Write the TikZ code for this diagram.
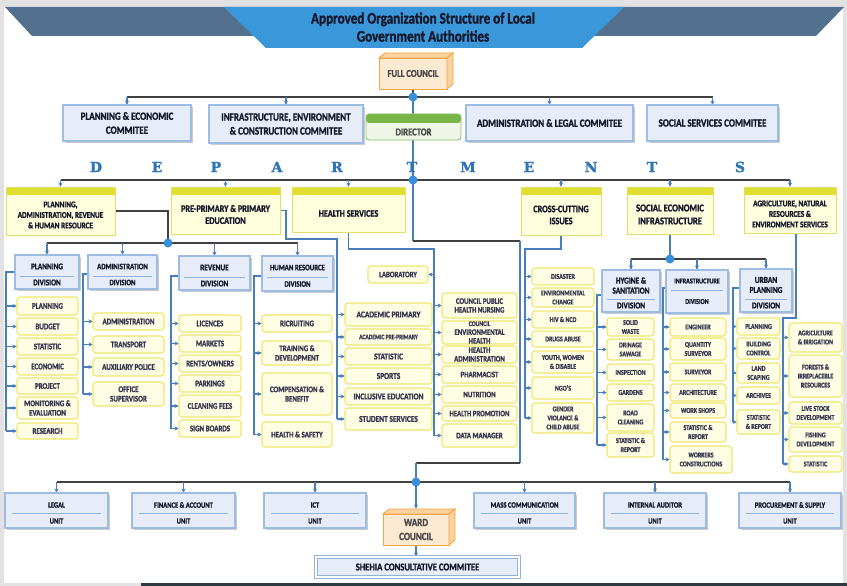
\documentclass[tikz,border=0pt]{standalone}
\usepackage{fontspec}
\setmainfont{Carlito}[FakeStretch=0.82, BoldFeatures={FakeBold=1.4}]
\newfontfamily\deptfont{DejaVu Serif}[BoldFeatures={FakeBold=1.6}]
\usetikzlibrary{arrows.meta,shadows}
\pgfdeclarelayer{back}
\pgfdeclarelayer{bg}
\pgfsetlayers{back,bg,main}
\definecolor{bbf}{HTML}{E6EDF8}
\definecolor{bbd}{HTML}{9CBCE3}
\definecolor{blinec}{HTML}{8EB4E3}
\definecolor{ybf}{HTML}{FFFDE3}
\definecolor{ybd}{HTML}{EFE66E}
\definecolor{dbf}{HTML}{FFFEDD}
\definecolor{dbd}{HTML}{E3DE6A}
\definecolor{dhd}{HTML}{E0DE2E}
\definecolor{linec}{HTML}{4A7EBB}
\definecolor{busc}{HTML}{404040}
\definecolor{hubc}{HTML}{3A8FDA}
\definecolor{ctxt}{HTML}{34364F}
\definecolor{ink}{HTML}{15182A}
\definecolor{deptc}{HTML}{2E75B6}
\definecolor{banddark}{HTML}{53718F}
\definecolor{bandlight}{HTML}{3A98DA}
\definecolor{cubef}{HTML}{FDEAD2}
\definecolor{cubes}{HTML}{FBD3A0}
\definecolor{cubeb}{HTML}{F2A541}
\definecolor{cubet}{HTML}{4A4A4A}
\definecolor{dirh}{HTML}{7AB547}
\definecolor{dirf}{HTML}{EFF6E8}
\definecolor{dirb}{HTML}{8DC26A}
\definecolor{framec}{HTML}{E2E2E2}
\definecolor{stripc}{HTML}{2E3A40}
\definecolor{shd}{HTML}{8FB2DE}
\newcommand\cfs{8.5}
\newcommand\cbs{9.5}
\newcommand\bx[7]{\node[#6, minimum width={(#4)-(#2)}, minimum height={(#5)-(#3)}] (#1) at ({((#2)+(#4))/2},{((#3)+(#5))/2}) {#7};}
\newcommand\cb[6]{\bx{#1}{#2}{#3}{#4}{#5}{leafbox}{#6}}
\newcommand\dep[8]{\bx{#1}{#2}{#3}{#4}{#5}{deptbox}{}\node[text=ink, font=\fontsize{#6}{#7}\selectfont\bfseries] (#1t) at ({((#2)+(#4))/2},{((#3)+8+(#5))/2}) {#8};}
\newcommand\dv[9]{\bx{#1}{#2}{#3}{#4}{#5}{bluebox}{}\draw[bline] ({(#2)+5},#8) -- ({(#4)-5},#8);\node[text=ink, font=\fontsize{#6}{10}\selectfont\bfseries] (#1t) at ({((#2)+(#4))/2},{((#3)+(#8))/2+1}) {#7};\node[text=ink, font=\fontsize{#6}{10}\selectfont\bfseries] (#1b) at ({((#2)+(#4))/2},{((#8)+(#5))/2}) {#9};}
\newcommand\un[4]{\bx{#1}{#2}{493}{#3}{528}{bluebox}{}\draw[bline] ({(#2)+7},513) -- ({(#3)-7},513);\node[unitt] (#1t) at ({((#2)+(#3))/2},505) {#4};\node[unitt] (#1b) at ({((#2)+(#3))/2},521) {UNIT};}
\newcommand\cubefaces[1]{\filldraw[cubeface] (#1.north west) -- ([shift={(6,-5)}]#1.north west) -- ([shift={(6,-5)}]#1.north east) -- (#1.north east) -- cycle;\filldraw[cubeface] (#1.north east) -- ([shift={(6,-5)}]#1.north east) -- ([shift={(6,-5)}]#1.south east) -- (#1.south east) -- cycle;}
\newcommand\spine[6]{\coordinate (#1) at (#2,#3);\draw[spinel] (#4.west|-#1) -- (#1) -- (#1|-#5.west);\foreach \nn in {#6} \draw[arrl] (#1|-\nn.west) -- (\nn.west);}
\tikzset{
 every node/.style={inner sep=0pt, outer sep=0pt, align=center},
 bluebox/.style={draw=bbd, line width=1.3pt, fill=bbf, drop shadow={shadow xshift=1.6pt, shadow yshift=-1.6pt, fill=black!40, opacity=0.5}},
 comm/.style={bluebox, text=ink, font=\fontsize{11}{14}\selectfont\bfseries},
 leafbox/.style={draw=ybd, line width=1.1pt, fill=ybf, rounded corners=3pt, text=ctxt, font=\fontsize{\cfs}{\cbs}\selectfont\bfseries},
 deptbox/.style={draw=dbd, line width=0.9pt, fill=dbf, path picture={\fill[dhd] (path picture bounding box.north west) rectangle ([yshift=-8pt]path picture bounding box.north east);}},
 dirbox/.style={draw=dirb, line width=0.9pt, fill=dirf, rounded corners=3pt, path picture={\fill[dirh] (path picture bounding box.north west) rectangle ([yshift=-9pt]path picture bounding box.north east);}},
 cubefront/.style={draw=cubeb, line width=0.9pt, fill=cubef, text=cubet, font=\fontsize{10.5}{14}\selectfont\bfseries},
 cubeface/.style={draw=cubeb, line width=0.9pt, fill=cubes},
 spinel/.style={draw=linec, line width=1.1pt},
 busl/.style={draw=busc, line width=1.2pt},
 arrl/.style={spinel, -{Stealth[length=4.5pt,width=4pt]}},
 bline/.style={draw=blinec, line width=0.9pt},
 unitt/.style={text=ink, font=\fontsize{8}{9}\selectfont\bfseries},
 deptl/.style={text=deptc, font=\deptfont\fontsize{14}{14}\selectfont\bfseries},
 shehia/.style={draw=shd, double=white, double distance=1.4pt, line width=0.9pt, fill=bbf, text=ink, font=\fontsize{10.5}{12}\selectfont\bfseries},
}
\begin{document}
\begin{tikzpicture}[x=1pt,y=-1pt]
\begin{pgfonlayer}{back}
\fill[framec] (0,0) rectangle (847,586);
\fill[white] (4,7) rectangle (843,583);
\fill[stripc] (141,583) rectangle (847,586);
\end{pgfonlayer}
\useasboundingbox (0,0) rectangle (847,586);
% title
\fill[banddark] (5,7) -- (844,7) -- (816,36) -- (32,36) -- cycle;
\fill[bandlight] (224,7) -- (624,7) -- (582,48) -- (266,48) -- cycle;
\node[text=ink, font=\fontsize{16}{18}\selectfont\bfseries] (title) at (423,27) {Approved Organization Structure of Local\\Government Authorities};
% full council
\node[cubefront, minimum width=68, minimum height=31] (fc) at (413,73.5) {FULL COUNCIL};
\cubefaces{fc}
% committees
\bx{pec}{63}{105}{191}{141}{comm}{PLANNING \& ECONOMIC\\COMMITEE}
\bx{iecc}{209}{105}{363}{143}{comm}{INFRASTRUCTURE, ENVIRONMENT\\\& CONSTRUCTION COMMITEE}
\bx{alc}{466}{105}{633}{141}{comm}{ADMINISTRATION \& LEGAL COMMITEE}
\bx{ssc}{647}{105}{778}{141}{comm}{SOCIAL SERVICES COMMITEE}
\bx{dir}{366}{114}{461}{140}{dirbox}{}
\node[text=cubet, font=\fontsize{10.5}{12}\selectfont\bfseries] (dirt) at (413.5,132) {DIRECTOR};
% DEPARTMENTS
\foreach \l/\x in {D/96,E/157,P/216,A/277,R/337,T/412,M/468,E/529,N/591,T/652,S/740} \node[deptl] (L\x) at (\x,167) {\l};
% departments
\dep{d1}{6}{187}{115}{235}{8.8}{10.5}{PLANNING,\\ADMINISTRATION, REVENUE\\\& HUMAN RESOURCE}
\dep{d2}{171}{187}{280}{234}{10}{12}{PRE-PRIMARY \& PRIMARY\\EDUCATION}
\dep{d3}{292}{187}{405}{232}{10}{12}{HEALTH SERVICES}
\dep{d4}{521}{187}{601}{235}{10}{12}{CROSS-CUTTING\\ISSUES}
\dep{d5}{627}{187}{713}{234}{10.5}{13}{SOCIAL ECONOMIC\\INFRASTRUCTURE}
\dep{d6}{744}{187}{836}{233}{8.8}{10.5}{AGRICULTURE, NATURAL\\RESOURCES \&\\ENVIRONMENT SERVICES}
% divisions
\dv{dv1}{15}{255}{79}{289}{8.8}{PLANNING}{276}{DIVISION}
\dv{dv2}{88}{255}{157}{289}{8.3}{ADMINISTRATION}{276}{DIVISION}
\dv{dv3}{179}{256}{250}{290}{8.8}{REVENUE}{277}{DIVISION}
\dv{dv4}{262}{256}{333}{291}{8.3}{HUMAN RESOURCE}{277}{DIVISION}
\dv{dh}{602}{270}{660}{312}{9}{HYGINE \&\\SANITATION}{299}{DIVISION}
\dv{di}{666}{270}{728}{313}{7.5}{INFRASTRUCTURE}{290}{DIVISION}
\dv{du}{740}{269}{792}{312}{9}{URBAN\\PLANNING}{299}{DIVISION}
% planning children
\cb{pa1}{17}{297}{78}{315}{PLANNING}
\cb{pa2}{17}{318}{78}{335}{BUDGET}
\cb{pa3}{17}{338}{78}{355}{STATISTIC}
\cb{pa4}{17}{358}{78}{375}{ECONOMIC}
\cb{pa5}{17}{378}{78}{394}{PROJECT}
\cb{pa6}{17}{397}{78}{419}{MONITORING \&\\EVALUATION}
\cb{pa7}{17}{423}{78}{439}{RESEARCH}
\cb{ad1}{93}{313}{164}{330}{ADMINISTRATION}
\cb{ad2}{93}{336}{164}{353}{TRANSPORT}
\cb{ad3}{93}{358}{164}{376}{AUXILIARY POLICE}
\cb{ad4}{93}{382}{164}{406}{OFFICE\\SUPERVISOR}
\cb{rv1}{179}{315}{241}{332}{LICENCES}
\cb{rv2}{179}{335}{241}{352}{MARKETS}
\cb{rv3}{179}{355}{241}{372}{RENTS/OWNERS}
\cb{rv4}{179}{375}{241}{392}{PARKINGS}
\cb{rv5}{179}{395}{241}{417}{CLEANING FEES}
\cb{rv6}{179}{420}{241}{437}{SIGN BOARDS}
\cb{hr1}{262}{315}{332}{332}{RICRUITING}
\cb{hr2}{262}{341}{332}{365}{TRAINING \&\\DEVELOPMENT}
\cb{hr3}{262}{373}{332}{415}{COMPENSATION \&\\BENEFIT}
\cb{hr4}{262}{422}{332}{447}{HEALTH \& SAFETY}
% education
\renewcommand\cfs{9}
\cb{ep1}{345}{303}{432}{326}{ACADEMIC PRIMARY}
\cb{ep2}{345}{329}{432}{345}{\fontsize{6.8}{8}\selectfont ACADEMIC PRE-PRIMARY}
\cb{ep3}{345}{348}{432}{365}{STATISTIC}
\cb{ep4}{345}{368}{432}{384}{SPORTS}
\cb{ep5}{345}{388}{432}{405}{INCLUSIVE EDUCATION}
\cb{ep6}{345}{408}{432}{430}{STUDENT SERVICES}
% health
\renewcommand\cfs{8.3}\renewcommand\cbs{8.8}
\cb{hl}{368}{266}{428}{283}{LABORATORY}
\cb{hs1}{442}{293}{517}{318}{COUNCIL PUBLIC\\HEALTH NURSING}
\cb{hs2}{442}{321}{517}{344}{\fontsize{7}{8.5}\selectfont COUNCIL\\ENVIRONMENTAL\\HEALTH}
\cb{hs3}{442}{346}{517}{363}{HEALTH\\ADMINISTRATION}
\cb{hs4}{442}{366}{517}{383}{PHARMACIST}
\cb{hs5}{442}{386}{517}{403}{NUTRITION}
\cb{hs6}{442}{406}{517}{421}{HEALTH PROMOTION}
\cb{hs7}{442}{424}{517}{447}{DATA MANAGER}
% cross-cutting and right side
\renewcommand\cfs{7.3}\renewcommand\cbs{9}
\cb{cc1}{532}{268}{594}{285}{DISASTER}
\cb{cc2}{532}{288}{594}{307}{ENVIRONMENTAL\\CHANGE}
\cb{cc3}{532}{311}{594}{328}{HIV \& NCD}
\cb{cc4}{532}{331}{594}{347}{DRUGS ABUSE}
\cb{cc5}{532}{351}{594}{373}{YOUTH, WOMEN\\\& DISABLE}
\cb{cc6}{532}{377}{594}{399}{NGO'S}
\cb{cc7}{532}{403}{594}{433}{GENDER\\VIOLANCE \&\\CHILD ABUSE}
\cb{hy1}{607}{318}{654}{336}{SOLID\\WASTE}
\cb{hy2}{607}{339}{654}{360}{DRINAGE\\SAWAGE}
\cb{hy3}{607}{364}{654}{381}{INSPECTION}
\cb{hy4}{607}{384}{654}{401}{GARDENS}
\cb{hy5}{607}{404}{654}{431}{ROAD\\CLEANING}
\cb{hy6}{607}{433}{654}{457}{STATISTIC \&\\REPORT}
\cb{in1}{670}{318}{726}{336}{ENGINEER}
\cb{in2}{670}{338}{726}{360}{QUANTITY\\SURVEYOR}
\cb{in3}{670}{363}{726}{381}{SURVEYOR}
\cb{in4}{670}{384}{726}{401}{ARCHITECTURE}
\cb{in5}{670}{403}{726}{418}{WORK SHOPS}
\cb{in6}{670}{422}{726}{442}{STATISTIC \&\\REPORT}
\cb{in7}{670}{446}{732}{473}{WORKERS\\CONSTRUCTIONS}
\cb{ur1}{737}{318}{780}{335}{PLANNING}
\cb{ur2}{737}{338}{780}{359}{BUILDING\\CONTROL}
\cb{ur3}{737}{363}{780}{383}{LAND\\SCAPING}
\cb{ur4}{737}{387}{780}{404}{ARCHIVES}
\cb{ur5}{737}{410}{780}{434}{STATISTIC\\\& REPORT}
\cb{ag1}{789}{323}{842}{352}{AGRICULTURE\\\& IRRIGATION}
\cb{ag2}{789}{355}{842}{397}{FORESTS \&\\IRREPLACEBLE\\RESOURCES}
\cb{ag3}{789}{402}{842}{424}{LIVE STOCK\\DEVELOPMENT}
\cb{ag4}{789}{427}{842}{452}{FISHING\\DEVELOPMENT}
\cb{ag5}{789}{456}{842}{472}{STATISTIC}
% units
\un{u1}{5}{108}{LEGAL}
\un{u2}{132}{235}{FINANCE \& ACCOUNT}
\un{u3}{264}{366}{ICT}
\un{u4}{474}{575}{MASS COMMUNICATION}
\un{u5}{604}{706}{INTERNAL AUDITOR}
\un{u6}{739}{841}{PROCUREMENT \& SUPPLY}
\node[cubefront, font=\fontsize{11}{14}\selectfont\bfseries, minimum width=66, minimum height=31] (wc) at (416,529.5) {WARD\\COUNCIL};
\cubefaces{wc}
\bx{sh}{316}{557}{519}{577}{shehia}{SHEHIA CONSULTATIVE COMMITEE}
% connectors
\begin{pgfonlayer}{bg}
\coordinate (tb) at (413,97);
\coordinate (db) at (413,180);
\draw[busl] (fc.south) -- (tb);
\draw[busl] (pec.north|-tb) -- (ssc.north|-tb);
\foreach \nn in {pec,iecc,alc,ssc} \draw[arrl] (\nn.north|-tb) -- (\nn.north);
\draw[spinel] (tb) -- (db);
\draw[busl] (d1.north|-db) -- (d6.north|-db);
\foreach \nn in {d1,d2,d3,d4,d5,d6} \draw[arrl] (\nn.north|-db) -- (\nn.north);
\coordinate (b1) at (168,243);
\draw[busl] (d1.east) -| (b1);
\draw[busl] (dv1.north|-b1) -- (dv4.north|-b1);
\foreach \nn in {dv1,dv2,dv3,dv4} \draw[arrl] (\nn.north|-b1) -- (\nn.north);
\spine{s1}{6}{272}{dv1}{pa7}{pa1,pa2,pa3,pa4,pa5,pa6,pa7}
\spine{s2}{83}{274}{dv2}{ad4}{ad1,ad2,ad3,ad4}
\spine{s3}{171}{276}{dv3}{rv6}{rv1,rv2,rv3,rv4,rv5,rv6}
\spine{s4}{254}{276}{dv4}{hr4}{hr1,hr2,hr3,hr4}
\coordinate (p1) at (286,239);
\coordinate (s5) at (337,239);
\draw[spinel] (d2.east) -| (p1) -- (s5) -- (s5|-ep6.west);
\foreach \nn in {ep1,ep2,ep3,ep4,ep5,ep6} \draw[arrl] (s5|-\nn.west) -- (\nn.west);
\coordinate (h1) at (434,249);
\draw[spinel] (d3.south) |- (h1) -- (h1|-hs7.west);
\draw[arrl] (h1|-hl.east) -- (hl.east);
\foreach \nn in {hs1,hs2,hs3,hs4,hs5,hs6,hs7} \draw[arrl] (h1|-\nn.west) -- (\nn.west);
\coordinate (r1) at (413,241);
\coordinate (r2) at (520,241);
\coordinate (r3) at (520,463);
\coordinate (r4) at (416,463);
\coordinate (bb) at (416,482);
\draw[spinel] (db) -- (r1);
\draw[busl] (r1) -- (r2);
\draw[spinel] (r2) -- (r3);
\draw[busl] (r3) -- (r4);
\draw[spinel] (r4) -- (bb);
\coordinate (x1) at (525,249);
\draw[spinel] (d4.south) |- (x1) -- (x1|-cc7.west);
\foreach \nn in {cc1,cc2,cc3,cc4,cc5,cc6,cc7} \draw[arrl] (x1|-\nn.west) -- (\nn.west);
\coordinate (b2) at (670,259);
\draw[spinel] (d5.south) -- (b2);
\draw[busl] (dh.north|-b2) -- (du.north|-b2);
\foreach \nn in {dh,di,du} \draw[arrl] (\nn.north|-b2) -- (\nn.north);
\spine{s6}{597}{295}{dh}{hy6}{hy1,hy2,hy3,hy4,hy5,hy6}
\spine{s7}{663}{288}{di}{in7}{in1,in2,in3,in4,in5,in6,in7}
\spine{s8}{733}{288}{du}{ur5}{ur1,ur2,ur3,ur4,ur5}
\coordinate (a1) at (796,318);
\coordinate (a2) at (783,318);
\draw[spinel] (a1|-d6.south) -- (a1) -- (a2) -- (a2|-ag5.west);
\foreach \nn in {ag1,ag2,ag3,ag4,ag5} \draw[arrl] (a2|-\nn.west) -- (\nn.west);
\draw[busl] (u1.north|-bb) -- (u6.north|-bb);
\foreach \nn in {u1,u2,u3,u4,u5,u6} \draw[arrl] (\nn.north|-bb) -- (\nn.north);
\draw[arrl] (bb) -- ([yshift=5pt]wc.north);
\draw[arrl] (wc.south) -- (wc.south|-sh.north);
\end{pgfonlayer}
\foreach \pp in {tb,db,b1,b2,bb} \fill[hubc] (\pp) circle[radius=4.5pt];
\end{tikzpicture}
\end{document}
